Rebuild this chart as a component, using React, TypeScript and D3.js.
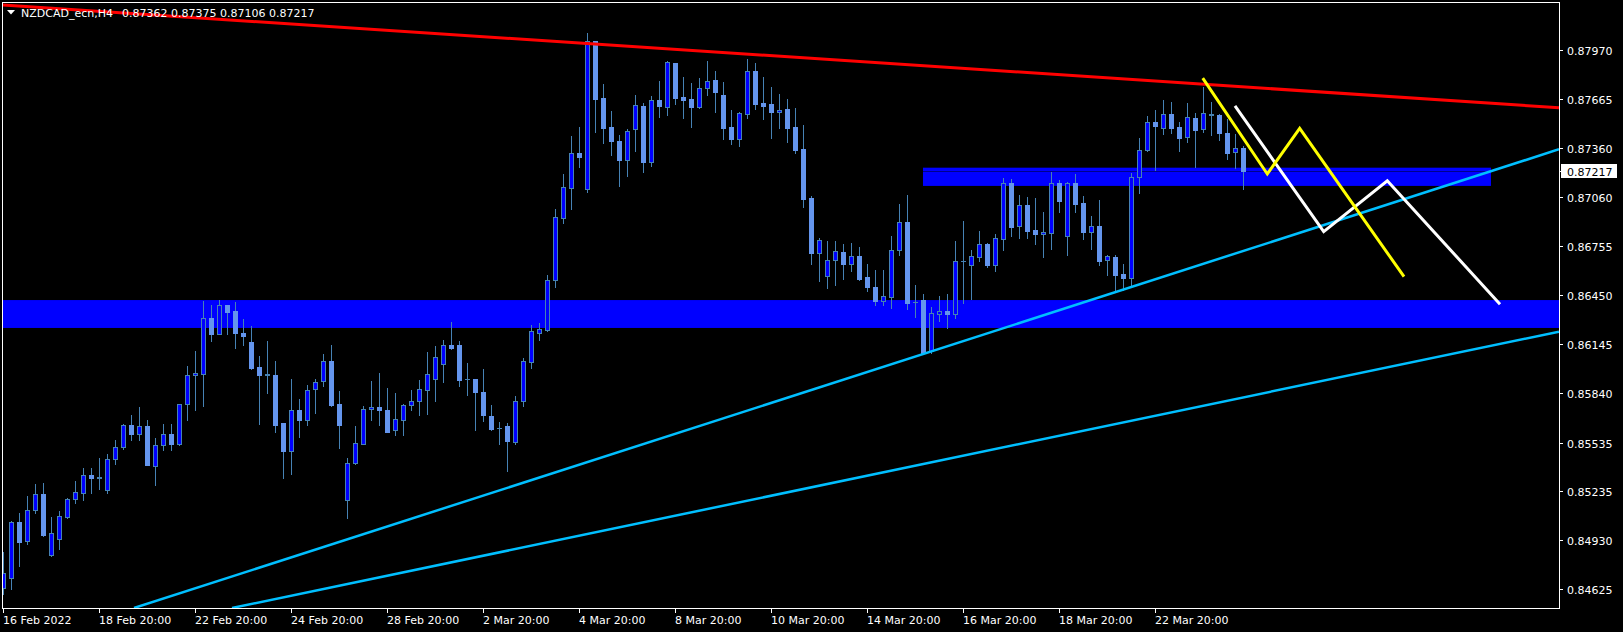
import React from "react";
import * as d3 from "d3";

// ---- Candle data (H4 bars, NZDCAD) ----
const openP = [
  0.84634, 0.84696, 0.85044, 0.84922, 0.85114, 0.85217, 0.84839, 0.84934, 0.85076, 0.85182,
  0.85225, 0.85335, 0.85318, 0.85238, 0.85432, 0.85507, 0.85645, 0.85587, 0.85639, 0.85387,
  0.85519, 0.85589, 0.85529, 0.85773, 0.85953, 0.85959, 0.86307, 0.86207, 0.86389, 0.86352,
  0.86215, 0.8616, 0.86005, 0.85961, 0.85955, 0.85657, 0.8548, 0.85738, 0.85678, 0.85866,
  0.85914, 0.86042, 0.85775, 0.85178, 0.85408, 0.85529, 0.85742, 0.85757, 0.85738, 0.85612,
  0.85678, 0.85767, 0.8579, 0.85864, 0.85928, 0.86021, 0.86139, 0.86139, 0.8593, 0.8593,
  0.8585, 0.85701, 0.85628, 0.85639, 0.8554, 0.8579, 0.86037, 0.86214, 0.86236, 0.86542,
  0.8693, 0.87116, 0.8733, 0.8711, 0.88024, 0.87671, 0.87491, 0.87404, 0.8729, 0.87478,
  0.87623, 0.87277, 0.8766, 0.87618, 0.87889, 0.87679, 0.87666, 0.87618, 0.87733, 0.87782,
  0.87691, 0.87493, 0.8742, 0.87575, 0.8784, 0.87641, 0.87635, 0.87584, 0.87604, 0.87493,
  0.87356, 0.87052, 0.86713, 0.86571, 0.86666, 0.86718, 0.86645, 0.86693, 0.86563, 0.86501,
  0.86416, 0.8644, 0.86728, 0.86904, 0.86409, 0.8642, 0.86106, 0.86335, 0.86352, 0.86335,
  0.8666, 0.86635, 0.86689, 0.86767, 0.86639, 0.868, 0.87144, 0.86881, 0.87007, 0.86852,
  0.86827, 0.86837, 0.87144, 0.86819, 0.87144, 0.8702, 0.86844, 0.86877, 0.86666, 0.86685,
  0.86579, 0.86558, 0.87181, 0.87352, 0.87522, 0.87485, 0.87571, 0.87491, 0.87429, 0.87547,
  0.87478, 0.87573, 0.87567, 0.87455, 0.87336, 0.87362,
];
const highP = [
  0.84858, 0.8505, 0.85099, 0.85205, 0.85279, 0.85285, 0.85073, 0.85112, 0.85191, 0.85298,
  0.85378, 0.85378, 0.8544, 0.85465, 0.85552, 0.85651, 0.85707, 0.85757, 0.85676, 0.85564,
  0.85653, 0.85653, 0.85775, 0.86011, 0.86104, 0.86414, 0.86389, 0.8642, 0.86389, 0.86408,
  0.863, 0.86259, 0.86073, 0.86166, 0.86042, 0.85657, 0.8593, 0.85806, 0.85893, 0.8593,
  0.86085, 0.86141, 0.85856, 0.8544, 0.85639, 0.85763, 0.85918, 0.85967, 0.85874, 0.85843,
  0.85775, 0.85862, 0.85924, 0.86098, 0.86135, 0.86172, 0.86284, 0.86166, 0.86029, 0.8593,
  0.85992, 0.85769, 0.85662, 0.85657, 0.85821, 0.86059, 0.86265, 0.86276, 0.86573, 0.86984,
  0.87201, 0.87437, 0.87493, 0.88074, 0.88024, 0.87759, 0.87592, 0.87441, 0.8748, 0.87691,
  0.87641, 0.87683, 0.87778, 0.87902, 0.87889, 0.87803, 0.87765, 0.87796, 0.87902, 0.8784,
  0.87772, 0.87598, 0.87586, 0.87914, 0.87889, 0.87803, 0.87741, 0.87697, 0.87666, 0.8761,
  0.87505, 0.87065, 0.86804, 0.86788, 0.86788, 0.86767, 0.86773, 0.86749, 0.86643, 0.86606,
  0.86606, 0.86817, 0.87015, 0.87071, 0.86513, 0.86457, 0.86377, 0.86445, 0.86457, 0.86784,
  0.86908, 0.86728, 0.86846, 0.86775, 0.86829, 0.87175, 0.8717, 0.87071, 0.87059, 0.87052,
  0.86964, 0.87214, 0.87162, 0.8715, 0.87201, 0.87065, 0.86939, 0.8704, 0.86699, 0.86701,
  0.86643, 0.87206, 0.87423, 0.87561, 0.87596, 0.87658, 0.87648, 0.87524, 0.87641, 0.87579,
  0.87743, 0.87646, 0.87573, 0.87542, 0.87449, 0.87375,
];
const lowP = [
  0.84597, 0.84628, 0.84771, 0.84909, 0.85101, 0.84954, 0.84833, 0.84872, 0.8507, 0.85163,
  0.85176, 0.85225, 0.85248, 0.85225, 0.85405, 0.85494, 0.85554, 0.85554, 0.85397, 0.85269,
  0.85492, 0.85492, 0.85519, 0.85678, 0.85734, 0.85759, 0.86162, 0.86207, 0.86207, 0.86124,
  0.86143, 0.85994, 0.85653, 0.85845, 0.85602, 0.85318, 0.85343, 0.85571, 0.85641, 0.85721,
  0.85885, 0.85759, 0.85504, 0.8507, 0.85403, 0.85529, 0.85672, 0.85647, 0.85603, 0.85585,
  0.85585, 0.85738, 0.85707, 0.85713, 0.85794, 0.85912, 0.86116, 0.85887, 0.85833, 0.8561,
  0.85666, 0.85614, 0.85527, 0.8536, 0.85529, 0.85765, 0.86, 0.86172, 0.8623, 0.86503,
  0.86899, 0.86984, 0.87247, 0.87092, 0.87462, 0.87393, 0.87319, 0.87129, 0.87191, 0.87346,
  0.87215, 0.87253, 0.87556, 0.87569, 0.87637, 0.8755, 0.87494, 0.87612, 0.87693, 0.87587,
  0.8742, 0.87389, 0.87377, 0.8755, 0.87606, 0.87544, 0.87426, 0.87488, 0.87401, 0.87333,
  0.86998, 0.86645, 0.8654, 0.86496, 0.86515, 0.86552, 0.86602, 0.86542, 0.86478, 0.86389,
  0.86389, 0.86372, 0.86701, 0.86366, 0.86317, 0.8609, 0.86093, 0.86292, 0.86248, 0.8631,
  0.86403, 0.86428, 0.86664, 0.86627, 0.86602, 0.8673, 0.86819, 0.86806, 0.86806, 0.86769,
  0.86689, 0.86738, 0.86968, 0.86701, 0.86968, 0.868, 0.86738, 0.86639, 0.86573, 0.86482,
  0.86482, 0.86503, 0.87085, 0.87346, 0.87228, 0.87447, 0.87457, 0.87346, 0.87401, 0.87247,
  0.87464, 0.87441, 0.87412, 0.87296, 0.8724, 0.87106,
];
const closeP = [
  0.84727, 0.85044, 0.8492, 0.85116, 0.85215, 0.84959, 0.84974, 0.85079, 0.85184, 0.85228,
  0.85333, 0.85318, 0.85324, 0.85432, 0.85507, 0.85645, 0.85591, 0.85637, 0.85399, 0.85519,
  0.85587, 0.85529, 0.85773, 0.85953, 0.85966, 0.86307, 0.86211, 0.86387, 0.86347, 0.86217,
  0.86199, 0.86, 0.85957, 0.85953, 0.85647, 0.8548, 0.85736, 0.85678, 0.85862, 0.85912,
  0.86042, 0.85769, 0.85641, 0.85408, 0.85532, 0.85742, 0.85757, 0.85736, 0.85603, 0.8568,
  0.85769, 0.85792, 0.85866, 0.85959, 0.86065, 0.86139, 0.86122, 0.85926, 0.85927, 0.8585,
  0.85709, 0.8562, 0.85627, 0.85542, 0.85792, 0.8604, 0.86228, 0.86238, 0.86542, 0.86933,
  0.87119, 0.8733, 0.87309, 0.88024, 0.87666, 0.87488, 0.87408, 0.8729, 0.87466, 0.87627,
  0.87277, 0.87658, 0.87625, 0.87894, 0.87674, 0.87662, 0.87618, 0.87733, 0.87776, 0.87711,
  0.87488, 0.8742, 0.87578, 0.8784, 0.87637, 0.87623, 0.87587, 0.87598, 0.87488, 0.87352,
  0.87048, 0.86713, 0.86792, 0.86668, 0.86724, 0.86645, 0.86693, 0.86552, 0.86503, 0.86416,
  0.86443, 0.8673, 0.86904, 0.86403, 0.86406, 0.86093, 0.86338, 0.86352, 0.86335, 0.8666,
  0.86659, 0.86691, 0.86765, 0.86639, 0.86803, 0.87144, 0.86875, 0.87007, 0.8685, 0.86831,
  0.8684, 0.87144, 0.87036, 0.87144, 0.87017, 0.86844, 0.86877, 0.86664, 0.86691, 0.86577,
  0.86558, 0.87181, 0.87348, 0.87522, 0.87497, 0.87571, 0.87488, 0.87426, 0.87553, 0.87476,
  0.87578, 0.87565, 0.87457, 0.87333, 0.87361, 0.87217,
];

// ---- Axes ----
const timeTickBars = [0, 12, 24, 36, 48, 60, 72, 84, 96, 108, 120, 132, 144];
const timeTickLabels = [
  "16 Feb 2022", "18 Feb 20:00", "22 Feb 20:00", "24 Feb 20:00", "28 Feb 20:00",
  "2 Mar 20:00", "4 Mar 20:00", "8 Mar 20:00", "10 Mar 20:00", "14 Mar 20:00",
  "16 Mar 20:00", "18 Mar 20:00", "22 Mar 20:00",
];
const priceTicks = [
  0.8797, 0.87665, 0.8736, 0.8706, 0.86755, 0.8645, 0.86145, 0.8584, 0.85535, 0.85235,
  0.8493, 0.84625,
];
const lastPrice = 0.87217;
const symbolTitle = "NZDCAD_ecn,H4";
const titleValues = [0.87362, 0.87375, 0.87106, 0.87217];

// ---- Drawn objects (bar index, price) ----
const redTrend = [
  { bar: -0.16, price: 0.8825 },
  { bar: 194.46, price: 0.87612 },
];
const cyanUpper = [
  { bar: 16.34, price: 0.84509 },
  { bar: 194.46, price: 0.87354 },
];
const cyanLower = [
  { bar: 28.59, price: 0.84509 },
  { bar: 194.46, price: 0.86223 },
];
const yellowPath = [
  { bar: 149.93, price: 0.87795 },
  { bar: 158.0, price: 0.87201 },
  { bar: 162.05, price: 0.87484 },
  { bar: 175.09, price: 0.86564 },
];
const whitePath = [
  { bar: 153.96, price: 0.87623 },
  { bar: 165.05, price: 0.86843 },
  { bar: 173.0, price: 0.87159 },
  { bar: 187.09, price: 0.86393 },
];
const supportZone = { fromBar: -2, toBar: 196, top: 0.86419, bottom: 0.86246 };
const resistZone = { fromBar: 114.96, toBar: 185.96, top: 0.8724, bottom: 0.87127 };

type Pt = { bar: number; price: number };

export default function App() {
  const W = 1623;
  const H = 632;
  const L = 2;
  const R = 1559;
  const T = 2;
  const B = 608;

  const x = d3.scaleLinear().domain([0, 155]).range([3.3, 3.3 + 8 * 155]);
  const y = d3.scaleLinear().domain([0.84509, 0.882677]).range([608, 2]);
  const line = d3
    .line<Pt>()
    .x((d) => x(d.bar))
    .y((d) => y(d.price));

  const font = "'DejaVu Sans', Verdana, sans-serif";
  const wickColor = "#4682B4";
  const bullFill = "#0000FF";
  const bearFill = "#6495ED";

  const candles = openP.map((o, i) => {
    const c = closeP[i];
    const h = highP[i];
    const l = lowP[i];
    const cx = Math.floor(x(i));
    const yo = y(o);
    const yc = y(c);
    const top = Math.round(Math.min(yo, yc));
    const bot = Math.round(Math.max(yo, yc));
    const bh = Math.max(0, bot - top);
    const bull = c >= o;
    return (
      <g key={i}>
        <line
          x1={cx + 0.5}
          x2={cx + 0.5}
          y1={Math.round(y(h))}
          y2={Math.round(y(l)) + 1}
          stroke={wickColor}
          strokeWidth={1}
        />
        {bull ? (
          <>
            <rect x={cx - 2} y={top} width={5} height={bh + 1} fill={wickColor} />
            {bh >= 2 && (
              <rect x={cx - 1} y={top + 1} width={3} height={bh - 1} fill={bullFill} />
            )}
          </>
        ) : (
          <rect x={cx - 2} y={top} width={5} height={bh + 1} fill={bh >= 2 ? bearFill : wickColor} />
        )}
      </g>
    );
  });

  const zoneRect = (z: typeof supportZone, key: string) => (
    <rect
      key={key}
      x={x(z.fromBar)}
      y={y(z.top)}
      width={x(z.toBar) - x(z.fromBar)}
      height={y(z.bottom) - y(z.top)}
      fill="#0000FF"
    />
  );

  const bidY = Math.round(y(lastPrice)) + 0.5;

  return (
    <svg
      width={W}
      height={H}
      style={{ position: "absolute", left: 0, top: 0, display: "block" }}
      fontFamily={font}
    >
      <defs>
        <clipPath id="plotClip">
          <rect x={L + 1} y={T + 1} width={R - L - 1} height={B - T - 1} />
        </clipPath>
      </defs>
      <rect x={0} y={0} width={W} height={H} fill="#000000" />

      <g clipPath="url(#plotClip)">
        {zoneRect(supportZone, "sup")}
        {zoneRect(resistZone, "res")}
        <line x1={L} x2={R} y1={bidY} y2={bidY} stroke="#000000" strokeOpacity={0.45} strokeWidth={1} />
        {candles}
        <path d={line(redTrend) || ""} stroke="#FF0000" strokeWidth={3} fill="none" />
        <path d={line(cyanUpper) || ""} stroke="#00BFFF" strokeWidth={2.5} fill="none" />
        <path d={line(cyanLower) || ""} stroke="#00BFFF" strokeWidth={2.5} fill="none" />
        <path d={line(whitePath) || ""} stroke="#FFFFFF" strokeWidth={3} fill="none" strokeLinejoin="miter" />
        <path d={line(yellowPath) || ""} stroke="#FFFF00" strokeWidth={3} fill="none" strokeLinejoin="miter" />
      </g>

      {/* border */}
      <rect x={L + 0.5} y={T + 0.5} width={R - L} height={B - T} fill="none" stroke="#FFFFFF" strokeWidth={1} />

      {/* title */}
      <polygon points="7,10 15,10 11,14.5" fill="#FFFFFF" />
      <text x={21} y={17} fill="#FFFFFF" fontSize={11}>
        {symbolTitle}
      </text>
      <text x={122} y={17} fill="#FFFFFF" fontSize={11}>
        {titleValues.map((v) => v.toFixed(5)).join(" ")}
      </text>

      {/* price axis */}
      {priceTicks.map((p, i) => {
        const ty = Math.round(y(p)) + 0.5;
        return (
          <g key={"p" + i}>
            <line x1={R + 1} x2={R + 4} y1={ty} y2={ty} stroke="#FFFFFF" />
            <text x={1567} y={ty + 4} fill="#FFFFFF" fontSize={11}>
              {p.toFixed(5)}
            </text>
          </g>
        );
      })}
      <line x1={R + 1} x2={R + 4} y1={bidY} y2={bidY} stroke="#FFFFFF" />
      <rect x={1561} y={bidY - 7.5} width={56} height={14} fill="#FFFFFF" />
      <text x={1567} y={bidY + 4} fill="#000000" fontSize={11}>
        {lastPrice.toFixed(5)}
      </text>

      {/* time axis */}
      {timeTickBars.map((b, i) => {
        const tx = Math.floor(x(b)) + 0.5;
        return (
          <g key={"t" + i}>
            <line x1={tx} x2={tx} y1={B + 1} y2={B + 5} stroke="#FFFFFF" />
            <text x={tx - 0.5} y={624} fill="#FFFFFF" fontSize={11}>
              {timeTickLabels[i]}
            </text>
          </g>
        );
      })}
    </svg>
  );
}
